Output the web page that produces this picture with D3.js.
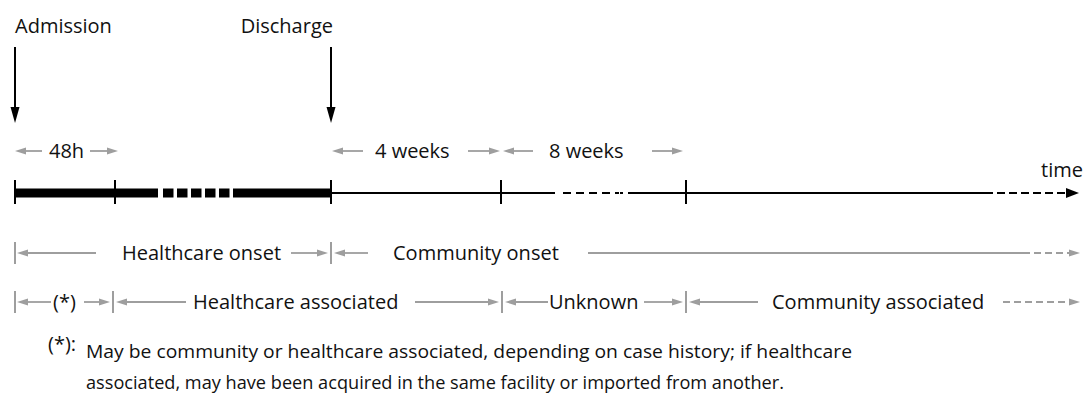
<!DOCTYPE html>
<html><head><meta charset="utf-8">
<script src="https://cdn.jsdelivr.net/npm/d3@7"></script>
<style>body{margin:0;background:#fff}text{font-family:"Open Sans",sans-serif;fill:#111}</style>
</head><body><svg id="c" width="1084" height="413"></svg>
<script>
// timeline positions in notional units (0 = admission, 100 = right reference)
const events = [{label:"Admission", t:0, anchor:"start"}, {label:"Discharge", t:31.6, anchor:"end"}];
const ticks = [0, 10, 31.6, 48.6, 67.1];
const axisEnd = 106.4;
const periods = [{label:"48h", t0:0, t1:10}, {label:"4 weeks", t0:31.6, t1:48.6}, {label:"8 weeks", t0:48.6, t1:67.1}];
const onsetRow = [{label:"Healthcare onset", t0:0, t1:31.6}, {label:"Community onset", t0:31.6, t1:106.5}];
const assocRow = [{label:"(*)", t0:0, t1:9.8}, {label:"Healthcare associated", t0:9.8, t1:48.7}, {label:"Unknown", t0:48.7, t1:67.1}, {label:"Community associated", t0:67.1, t1:106.5}];
const footnoteMark = "(*):";
const footnote = ["May be community or healthcare associated, depending on case history; if healthcare",
                  "associated, may have been acquired in the same facility or imported from another."];

const svg = d3.select("#c");
const x = d3.scaleLinear().domain([0, 100]).range([15, 1015]);
const GREY = "#9e9e9e";
const FS = 20;

function head(xTip, y, dir, color, len, hw) {
  svg.append("path").attr("d", `M${xTip},${y}L${xTip - dir*len},${y-hw}L${xTip - dir*len},${y+hw}Z`).attr("fill", color);
}
function label(xv, y, s, anchor) {
  return svg.append("text").attr("x", xv).attr("y", y).attr("font-size", FS).attr("text-anchor", anchor || "start").text(s);
}
function garrow(x1, x2, y, dir, dashed) {
  const tip = dir > 0 ? x2 : x1;
  const tail = dir > 0 ? x1 : x2;
  const l = svg.append("line").attr("x1", tail).attr("x2", tip - dir*8).attr("y1", y).attr("y2", y)
    .attr("stroke", GREY).attr("stroke-width", 1.8);
  if (dashed) l.attr("stroke-dasharray", "7,4");
  head(tip, y, dir, GREY, 11, 3.5);
}
function seg(x1, x2, y, dashed) {
  const l = svg.append("line").attr("x1", x1).attr("x2", x2).attr("y1", y).attr("y2", y).attr("stroke", GREY).attr("stroke-width", 1.8);
  if (dashed) l.attr("stroke-dasharray", "7,4");
}
function bar(xv, y) {
  svg.append("line").attr("x1", xv).attr("x2", xv).attr("y1", y - 11).attr("y2", y + 11).attr("stroke", GREY).attr("stroke-width", 2);
}

// Events
events.forEach(e => {
  const xe = x(e.t);
  label(e.anchor === "start" ? xe : xe + 2, 33, e.label, e.anchor);
  svg.append("line").attr("x1", xe).attr("x2", xe).attr("y1", 47).attr("y2", 112).attr("stroke", "#000").attr("stroke-width", 2);
  svg.append("path").attr("d", `M${xe},123L${xe-4.5},107L${xe+4.5},107Z`).attr("fill", "#000");
});

// Period labels
const py = 151;
{
  const a = x(periods[0].t0), b = x(periods[0].t1);
  garrow(a, a + 27, py, -1); label(a + 34, py + 7, periods[0].label); garrow(b - 25, b + 3, py, 1);
}
{
  const a = x(periods[1].t0), b = x(periods[1].t1);
  garrow(a + 1, a + 32, py, -1); label(a + 44, py + 7, periods[1].label); garrow(b - 33, b - 1, py, 1);
}
{
  const a = x(periods[2].t0), b = x(periods[2].t1);
  garrow(a + 2, a + 32, py, -1); label(a + 48, py + 7, periods[2].label); garrow(b - 34, b - 3, py, 1);
}

// Main timeline
const my = 193;
function bl(p0, p1, w, dash) {
  const l = svg.append("line").attr("x1", p0).attr("x2", p1).attr("y1", my).attr("y2", my).attr("stroke", "#000").attr("stroke-width", w);
  if (dash) l.attr("stroke-dasharray", dash);
}
bl(x(0), x(14.3), 9);
bl(x(14.8), x(21.5), 9, "10.5,3.5");
bl(x(21.8), x(31.6), 9);
bl(x(31.6), x(54.0), 2);
bl(x(54.8), x(60.4), 2, "8,5");
bl(x(60.5), x(60.8), 2);
bl(x(61.3), x(67.1), 2);
bl(x(67.1), x(97.0), 2);
bl(x(97.0), x(axisEnd) - 11, 2, "8,4");
head(x(axisEnd), my, 1, "#000", 13, 5);
ticks.forEach(t => {
  svg.append("line").attr("x1", x(t)).attr("x2", x(t)).attr("y1", 180).attr("y2", 204).attr("stroke", "#000").attr("stroke-width", 2);
});
label(1083, 177, "time", "end");

// row 3 : onset
const r3 = 253;
{
  const a = x(onsetRow[0].t0), b = x(onsetRow[0].t1), c = x(onsetRow[1].t1);
  bar(a, r3); bar(b, r3);
  garrow(a + 2, 96, r3, -1);
  label(122, r3 + 7, onsetRow[0].label);
  garrow(291, b - 3, r3, 1);
  garrow(b + 3, 368, r3, -1);
  label(393, r3 + 7, onsetRow[1].label);
  seg(588, 1023, r3); garrow(1023, c, r3, 1, true);
}
// row 4 : association
const r4 = 302;
{
  const xs = assocRow.map(d => x(d.t0));
  xs.forEach(v => bar(v, r4));
  garrow(xs[0] + 2, 51, r4, -1);
  label(53, r4 + 7, assocRow[0].label);
  garrow(84, xs[1] - 3, r4, 1);
  garrow(xs[1] + 3, 186, r4, -1);
  label(193, r4 + 7, assocRow[1].label);
  garrow(415, xs[2] - 3, r4, 1);
  garrow(xs[2] + 3, 548, r4, -1);
  label(549, r4 + 7, assocRow[2].label);
  garrow(644, xs[3] - 3, r4, 1);
  garrow(xs[3] + 3, 758, r4, -1);
  label(772, r4 + 7, assocRow[3].label);
  garrow(1003, x(assocRow[3].t1), r4, 1, true);
}

// footnote
svg.append("text").attr("x", 48).attr("y", 351).attr("font-size", 20).text(footnoteMark);
const fnWidths = [766, 698];
footnote.forEach((s, i) => {
  svg.append("text").attr("x", 86).attr("y", 358 + i * 31).attr("font-size", 19)
    .attr("textLength", fnWidths[i]).attr("lengthAdjust", "spacingAndGlyphs").text(s);
});
</script></body></html>
